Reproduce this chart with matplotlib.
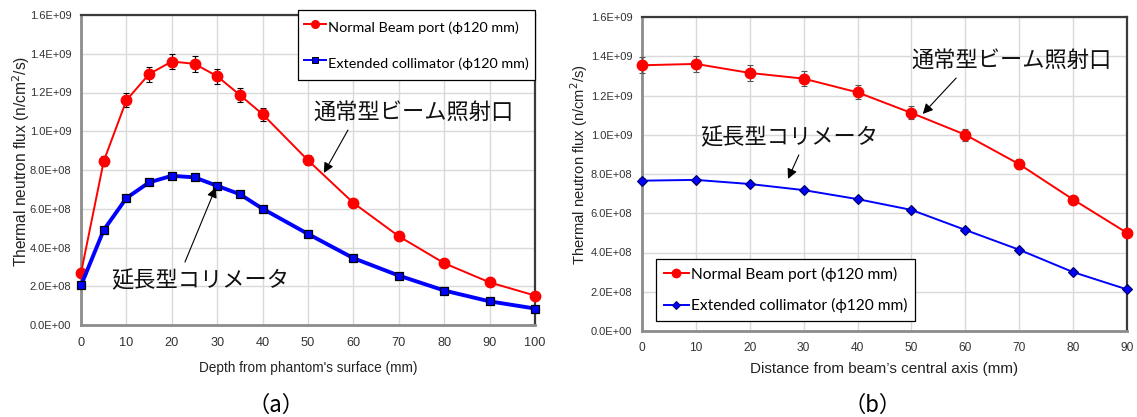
import matplotlib
matplotlib.use("Agg")
import matplotlib.pyplot as plt
from matplotlib.ticker import FuncFormatter, MultipleLocator
from matplotlib.lines import Line2D

# ---------------- data ----------------
depth_a = [0, 5, 10, 15, 20, 25, 30, 35, 40, 50, 60, 70, 80, 90, 100]
normal_a = [2.68e8, 8.45e8, 1.16e9, 1.295e9, 1.36e9, 1.348e9, 1.284e9, 1.187e9, 1.088e9,
            8.5e8, 6.3e8, 4.58e8, 3.19e8, 2.2e8, 1.52e8]
normal_a_err = [1.0e7, 2.5e7, 3.5e7, 3.9e7, 4.1e7, 4.0e7, 3.9e7, 3.6e7, 3.3e7,
                2.6e7, 1.9e7, 1.4e7, 1.0e7, 7.0e6, 5.0e6]
ext_a = [2.04e8, 4.9e8, 6.55e8, 7.36e8, 7.7e8, 7.62e8, 7.18e8, 6.75e8, 6.0e8,
         4.7e8, 3.45e8, 2.55e8, 1.78e8, 1.22e8, 8.5e7]
ext_a_err = [4.0e6, 1.0e7, 1.3e7, 1.5e7, 1.5e7, 1.5e7, 1.4e7, 1.4e7, 1.2e7,
             9.0e6, 7.0e6, 5.0e6, 4.0e6, 2.0e6, 2.0e6]

dist_b = [0, 10, 20, 30, 40, 50, 60, 70, 80, 90]
normal_b = [1.354e9, 1.361e9, 1.315e9, 1.286e9, 1.216e9, 1.111e9, 1.0e9, 8.5e8, 6.7e8, 5.0e8]
normal_b_err = [4.0e7, 4.1e7, 4.0e7, 3.9e7, 3.6e7, 3.3e7, 3.0e7, 2.6e7, 2.0e7, 1.5e7]
ext_b = [7.66e8, 7.7e8, 7.49e8, 7.18e8, 6.72e8, 6.17e8, 5.15e8, 4.14e8, 3.0e8, 2.12e8]
ext_b_err = [1.2e7, 1.2e7, 1.1e7, 1.1e7, 1.0e7, 9.0e6, 8.0e6, 6.0e6, 5.0e6, 3.0e6]

label_normal = "Normal Beam port (\u03d5120 mm)"
label_ext = "Extended collimator (\u03d5120 mm)"
ylabel = "Thermal neutron flux (n/cm$^2$/s)"
xlabel_a = "Depth from phantom's surface (mm)"
xlabel_b = "Distance from beam\u2019s central axis (mm)"
jp_normal = "通常型ビーム照射口"
jp_ext = "延長型コリメータ"
panel_a = "（a）"
panel_b = "（b）"

W, H = 1137, 417
fig = plt.figure(figsize=(W / 100, H / 100), dpi=100)

sans = ["Liberation Sans", "DejaVu Sans"]
legfont = ["Lato", "DejaVu Sans"]
jpfont = ["Noto Sans CJK JP", "DejaVu Sans"]

def px_axes(l, t, r, b):
    return [l / W, (H - b) / H, (r - l) / W, (b - t) / H]

sci = FuncFormatter(lambda v, p: f"{v:.1E}")

def style(ax, xmax, xstep, xtick_size, xpad):
    ax.set_ylim(0, 1.6e9)
    ax.set_xlim(0, xmax)
    ax.yaxis.set_major_locator(MultipleLocator(2e8))
    ax.xaxis.set_major_locator(MultipleLocator(xstep))
    ax.yaxis.set_major_formatter(sci)
    ax.grid(True, color="#d9d9d9", lw=1.0)
    ax.set_axisbelow(True)
    ax.tick_params(axis="y", length=0, pad=7, labelsize=8.0, labelcolor="#333333")
    ax.tick_params(axis="x", length=0, pad=xpad, labelsize=xtick_size, labelcolor="#333333")
    for lab in ax.get_xticklabels() + ax.get_yticklabels():
        lab.set_fontfamily(sans)
    for s in ("left", "bottom"):
        ax.spines[s].set_color("#8c8c8c")
        ax.spines[s].set_linewidth(2.0)
    for s in ("top", "right"):
        ax.spines[s].set_color("#3a3a3a")
        ax.spines[s].set_linewidth(1.6)

# ---------------- panel (a) ----------------
axa = fig.add_axes(px_axes(81, 15, 535, 325))
style(axa, 100, 10, 9.2, 9)
ha1 = axa.errorbar(depth_a, normal_a, yerr=normal_a_err, color="red", lw=1.4,
                   marker="o", ms=7.5, mfc="red", mec="red", ecolor="black",
                   elinewidth=0.8, capsize=2.2, capthick=0.8, clip_on=False, zorder=3)
ha2 = axa.errorbar(depth_a, ext_a, yerr=ext_a_err, color="#0000ff", lw=2.8,
                   marker="s", ms=6.2, mfc="#0000ff", mec="black", mew=0.9, ecolor="black",
                   elinewidth=0.8, capsize=2.0, capthick=0.8, clip_on=False, zorder=4)
for eb in (ha1, ha2):
    for c in eb[1] + eb[2]:
        c.set_clip_on(False)
axa.set_ylabel(ylabel, fontsize=11.2, family=sans, color="#222222")
axa.yaxis.set_label_coords((32 - 81) / 454, 0.529)
axa.set_xlabel(xlabel_a, fontsize=9.8, family=sans, color="#222222", labelpad=8)

lh1 = Line2D([], [], color="red", lw=1.4, marker="o", ms=5.5, mfc="red", mec="red")
lh2 = Line2D([], [], color="#0000ff", lw=1.4, marker="s", ms=4.5, mfc="#0000ff", mec="black", mew=0.7)
lega = axa.legend([lh1, lh2], [label_normal, label_ext], loc="upper right",
                  bbox_to_anchor=(535 / W, (H - 10) / H), bbox_transform=fig.transFigure,
                  prop={"family": legfont, "size": 10.4}, frameon=True, fancybox=False,
                  framealpha=1, edgecolor="black", borderpad=0.45, labelspacing=0.95,
                  handleheight=1.95, handlelength=1.5, handletextpad=0.12, borderaxespad=0)
lega.get_frame().set_linewidth(0.9)
lega.set_zorder(10)

arrow = dict(arrowstyle="-|>", color="black", lw=0.8, mutation_scale=15, shrinkA=0, shrinkB=0)
axa.annotate("", xy=(53.5, 7.85e8), xytext=(58.8, 1.006e9), arrowprops=arrow, zorder=6)
axa.text(73.3, 1.099e9, jp_normal, fontsize=16, family=jpfont, ha="center", va="center", color="#111111")
axa.annotate("", xy=(29.7, 7.1e8), xytext=(22.9, 3.25e8), arrowprops=arrow, zorder=6)
axa.text(26.2, 2.27e8, jp_ext, fontsize=16, family=jpfont, ha="center", va="center", color="#111111")

# ---------------- panel (b) ----------------
axb = fig.add_axes(px_axes(642, 17, 1127, 331))
style(axb, 90, 10, 8.6, 8)
hb1 = axb.errorbar(dist_b, normal_b, yerr=normal_b_err, color="red", lw=1.4,
                   marker="o", ms=7.5, mfc="red", mec="red", ecolor="#555555",
                   elinewidth=0.8, capsize=2.2, capthick=0.8, clip_on=False, zorder=3)
hb2 = axb.errorbar(dist_b, ext_b, yerr=ext_b_err, color="#0000ff", lw=1.4,
                   marker="D", ms=5.5, mfc="#0000ff", mec="#000060", mew=0.8, ecolor="#555555",
                   elinewidth=0.8, capsize=2.0, capthick=0.8, clip_on=False, zorder=4)
for eb in (hb1, hb2):
    for c in eb[1] + eb[2]:
        c.set_clip_on(False)
axb.set_ylabel(ylabel, fontsize=10.6, family=sans, color="#222222")
axb.yaxis.set_label_coords((590 - 642) / 485, 0.529)
axb.set_xlabel(xlabel_b, fontsize=11, family=sans, color="#222222", labelpad=6)

lh3 = Line2D([], [], color="red", lw=1.4, marker="o", ms=6, mfc="red", mec="red")
lh4 = Line2D([], [], color="#0000ff", lw=1.4, marker="D", ms=4.5, mfc="#0000ff", mec="#000060", mew=0.7)
legb = axb.legend([lh3, lh4], [label_normal, label_ext], loc="lower left",
                  bbox_to_anchor=(656 / W, (H - 321) / H), bbox_transform=fig.transFigure,
                  prop={"family": legfont, "size": 11.2}, frameon=True, fancybox=False,
                  framealpha=1, edgecolor="black", borderpad=0.5, labelspacing=1.05,
                  handlelength=1.6, handletextpad=0.15, borderaxespad=0)
legb.get_frame().set_linewidth(0.9)
legb.set_zorder(10)

axb.annotate("", xy=(52.1, 1.106e9), xytext=(58.3, 1.289e9), arrowprops=arrow, zorder=6)
axb.text(68.5, 1.381e9, jp_normal, fontsize=16, family=jpfont, ha="center", va="center", color="#111111")
axb.annotate("", xy=(27.1, 7.75e8), xytext=(29.1, 8.97e8), arrowprops=arrow, zorder=6)
axb.text(27.3, 9.83e8, jp_ext, fontsize=16, family=jpfont, ha="center", va="center", color="#111111")

fig.text(276 / W, (H - 405) / H, panel_a, fontsize=16, family=jpfont, ha="center", va="center")
fig.text(873 / W, (H - 405) / H, panel_b, fontsize=16, family=jpfont, ha="center", va="center")

fig.savefig("out.png", dpi=100, facecolor="white")
